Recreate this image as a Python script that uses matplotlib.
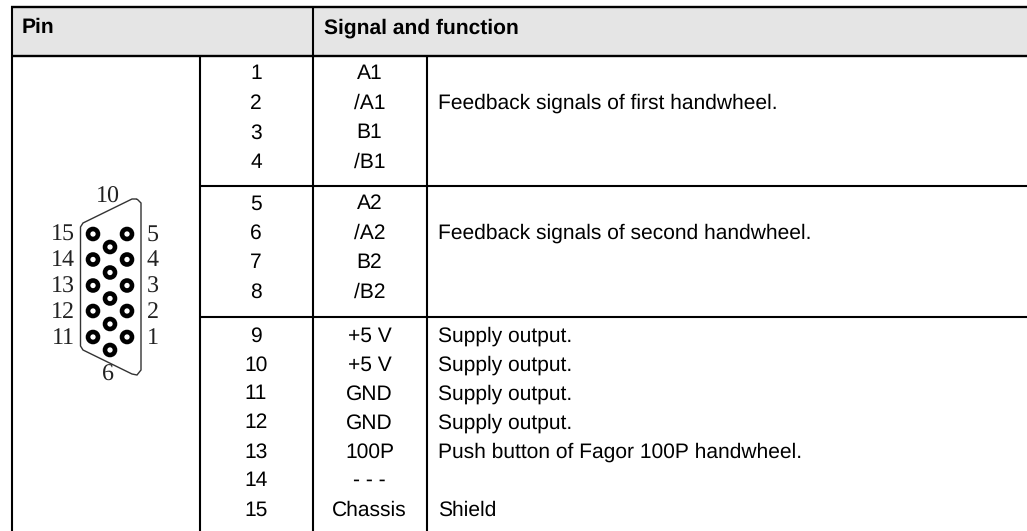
import numpy as np
import matplotlib
matplotlib.use('Agg')
import matplotlib.pyplot as plt
from matplotlib.path import Path
from matplotlib.patches import PathPatch, Circle, Rectangle

# Table contents
pins = ['1', '2', '3', '4', '5', '6', '7', '8', '9', '10', '11', '12', '13', '14', '15']
signals = ['A1', '/A1', 'B1', '/B1', 'A2', '/A2', 'B2', '/B2',
           '+5 V', '+5 V', 'GND', 'GND', '100P', '- - -', 'Chassis']
row_functions = ['', '', '', '', '', '', '', '',
                 'Supply output.', 'Supply output.', 'Supply output.', 'Supply output.',
                 'Push button of Fagor 100P handwheel.', '', 'Shield']
group_functions = ['Feedback signals of first handwheel.', 'Feedback signals of second handwheel.']
headers = ['Pin', 'Signal and function']
left_labels = ['15', '14', '13', '12', '11']
right_labels = ['5', '4', '3', '2', '1']

W, H = 1027, 531
row_y = [74, 103.5, 133, 162.5, 204, 233.5, 263, 292, 336, 365, 394, 423, 452, 481, 510]

plt.rcParams['font.family'] = ['Liberation Sans', 'DejaVu Sans']
plt.rcParams['text.hinting'] = 'none'
plt.rcParams['text.hinting_factor'] = 1
fig = plt.figure(figsize=(W / 100, H / 100), dpi=100)
ax = fig.add_axes([0, 0, 1, 1])
ax.set_xlim(0, W)
ax.set_ylim(H, 0)
ax.axis('off')

# Header band
ax.add_patch(Rectangle((11, 7), W - 11, 49, facecolor='#e5e5e5', edgecolor='none'))

lw = 1.5
ax.plot([10.5, W], [7, 7], color='k', lw=lw + 0.2, solid_capstyle='butt')
ax.plot([10.5, W], [56, 56], color='k', lw=lw + 0.2, solid_capstyle='butt')
ax.plot([11.5, 11.5], [6, H], color='k', lw=lw, solid_capstyle='butt')
ax.plot([312.7, 312.7], [7, H], color='k', lw=lw, solid_capstyle='butt')
ax.plot([200, 200], [56, H], color='k', lw=lw, solid_capstyle='butt')
ax.plot([426.7, 426.7], [56, H], color='k', lw=lw, solid_capstyle='butt')
for y in [185.5, 317]:
    ax.plot([200, W], [y, y], color='k', lw=lw, solid_capstyle='butt')

ax.text(22, 28, headers[0], fontsize=15, fontweight='bold', va='center')
ax.text(324, 28, headers[1], fontsize=15, fontweight='bold', va='center')

fs = 15
for i in range(len(pins)):
    ax.text(256, row_y[i], pins[i], fontsize=fs, ha='center', va='center')
    ax.text(369.5, row_y[i], signals[i], fontsize=fs, ha='center', va='center')
    if row_functions[i]:
        ax.text(438, row_y[i], row_functions[i], fontsize=fs, va='center')
ax.text(438, 103.5, group_functions[0], fontsize=fs, va='center')
ax.text(438, 233.5, group_functions[1], fontsize=fs, va='center')

# Connector drawing
outline = [(137, 199), (141, 203), (141, 370), (137, 375), (132, 374), (83, 350),
           (80.5, 346), (80.5, 227), (83, 223), (132, 199), (137, 199)]
ax.add_patch(PathPatch(Path(outline), facecolor='none', edgecolor='#333333', lw=1.0))

col_x = [93, 110, 127]
rows = [234, 259.5, 285.5, 311, 337]
for y in rows:
    for x in [col_x[0], col_x[2]]:
        ax.add_patch(Circle((x, y), 5, facecolor='white', edgecolor='k', lw=3.3))
for y in rows:
    ax.add_patch(Circle((col_x[1], y + 13), 5, facecolor='white', edgecolor='k', lw=3.3))

for y, a, b in zip(rows, left_labels, right_labels):
    ax.text(75, y + 1, a, family='Liberation Serif', fontsize=17, ha='right', va='center', color='#222222')
    ax.text(147, y + 1, b, family='Liberation Serif', fontsize=17, ha='left', va='center', color='#222222')
ax.text(107.5, 197, '10', family='Liberation Serif', fontsize=17, ha='center', va='center', color='#222222')
ax.text(108, 375, '6', family='Liberation Serif', fontsize=17, ha='center', va='center', color='#222222')

fig.savefig('out.png', dpi=100)
